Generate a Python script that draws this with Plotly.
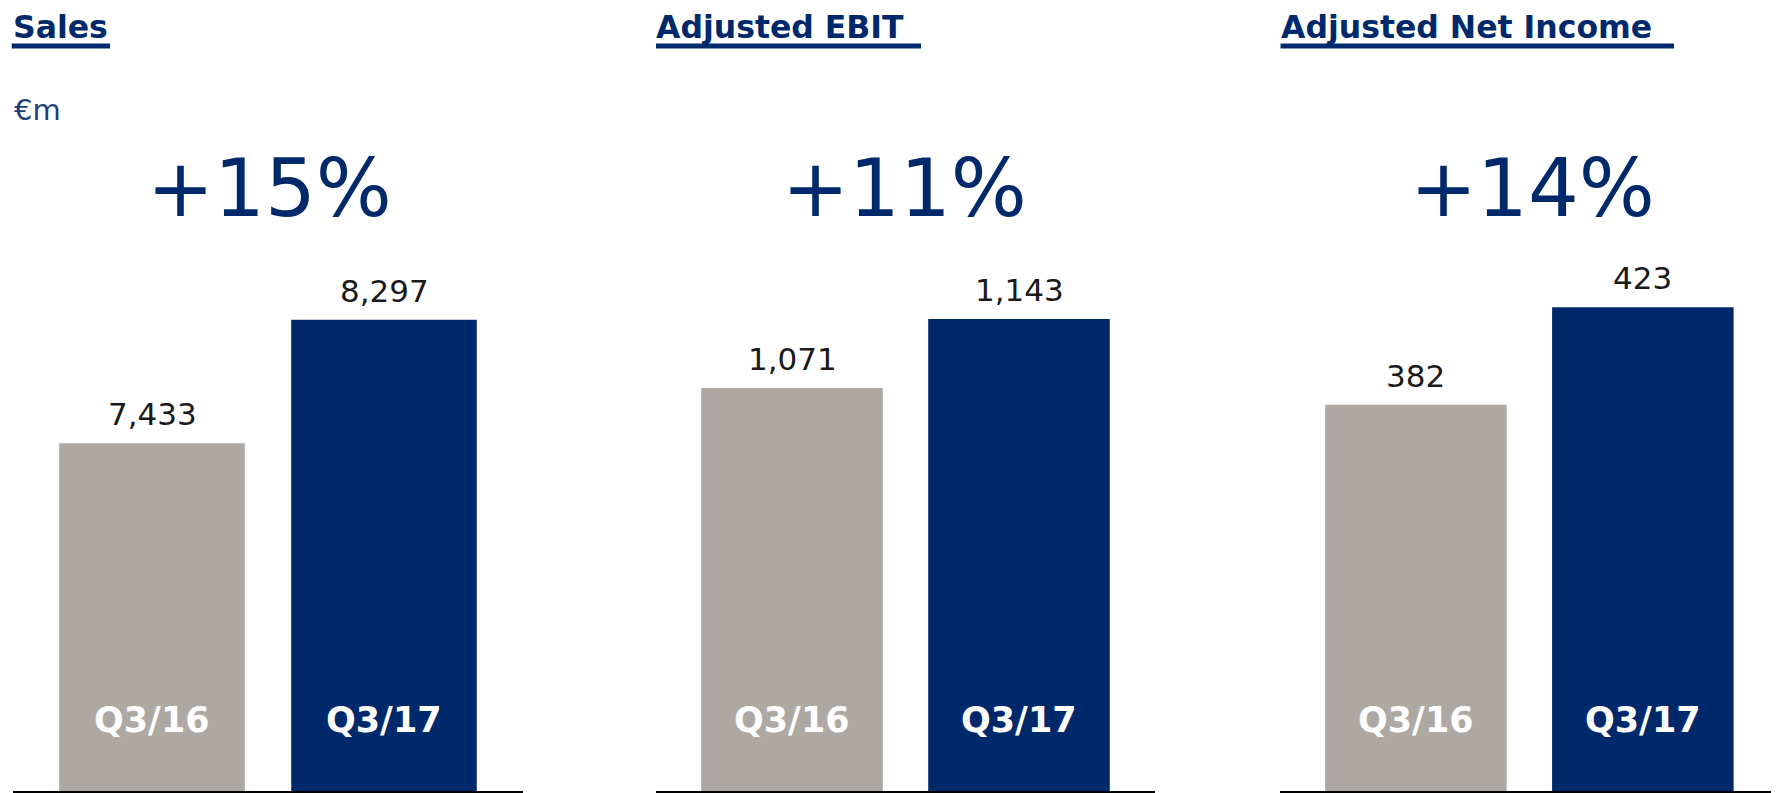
import plotly.graph_objects as go

# ---------------- data ----------------
periods = ["Q3/16", "Q3/17"]
sales = [7433, 8297]
adj_ebit = [1071, 1143]
adj_net_income = [382, 423]
panel_titles = ["Sales", "Adjusted EBIT", "Adjusted Net Income"]
growth_labels = ["+15%", "+11%", "+14%"]
unit_label = "€m"

# ---------------- layout / style ----------------
W, H = 1779, 793          # target page size
OFF = 8                   # default body margin of the html page
FW, FH = W - OFF, H - OFF # figure size so it fills the page
NAVY = "#00296B"
GREY = "#ADA8A2"
bar_colors = [GREY, NAVY]


def px_x(px):
    return (px - OFF) / FW


def px_y(py):
    return 1 - (py - OFF) / FH


series = [sales, adj_ebit, adj_net_income]
x_dom_px = [(12.8, 523.2), (655.8, 1155.2), (1279.8, 1779.0)]
y_ranges = [(5000, 10477), (650, 1468), (220, 548.5)]
title_x_px = [12.0, 655, 1279.5]
underline_px = [(11.7, 110), (656, 921), (1280.5, 1674)]
growth_x_px = [269, 905, 1532]
baseline_px = 791
y_dom = [px_y(baseline_px), 1.0]

fig = go.Figure()
annotations = []
shapes = []

for i, vals in enumerate(series):
    n = "" if i == 0 else str(i + 1)
    xa, ya = "x" + n, "y" + n
    floor = y_ranges[i][0]
    fig.add_trace(go.Bar(
        x=periods, y=[v - floor for v in vals], base=floor,
        xaxis=xa, yaxis=ya,
        marker=dict(color=bar_colors, line=dict(width=0)),
        width=0.8, hoverinfo="skip",
    ))

    fig.update_layout(**{
        "xaxis" + n: dict(
            domain=[max(0, px_x(x_dom_px[i][0])), min(1, px_x(x_dom_px[i][1]))],
            anchor=ya, type="category", range=[-0.6, 1.6],
            showticklabels=False, ticks="", showgrid=False, zeroline=False,
            showline=True, linecolor="#000000", linewidth=2,
        ),
        "yaxis" + n: dict(
            domain=y_dom, anchor=xa, range=list(y_ranges[i]),
            visible=False, showgrid=False, zeroline=False,
        ),
    })

    for p, v in zip(periods, vals):
        # value labels above the bars
        annotations.append(dict(
            x=p, y=v, xref=xa, yref=ya, text=f"{v:,}", showarrow=False,
            xanchor="center", yanchor="bottom", yshift=9,
            font=dict(family="DejaVu Sans", size=31, color="#1A1A1A"),
        ))
        # period labels inside the bars
        annotations.append(dict(
            x=p, y=floor, xref=xa, yref=ya, text=f"<b>{p}</b>",
            showarrow=False, xanchor="center", yanchor="bottom", yshift=49,
            font=dict(family="DejaVu Sans", size=35, color="#FFFFFF"),
        ))

    # panel titles with underline
    annotations.append(dict(
        x=px_x(title_x_px[i]), y=1.0, xref="paper", yref="paper",
        text=f"<b>{panel_titles[i]}</b>", showarrow=False,
        xanchor="left", yanchor="top", yshift=0, borderpad=0,
        font=dict(family="DejaVu Sans", size=31.5, color=NAVY),
    ))
    shapes.append(dict(
        type="line", xref="paper", yref="paper",
        x0=px_x(underline_px[i][0]), x1=px_x(underline_px[i][1]),
        y0=px_y(46), y1=px_y(46),
        line=dict(color=NAVY, width=5),
    ))
    # growth figures
    annotations.append(dict(
        x=px_x(growth_x_px[i]), y=px_y(140), xref="paper", yref="paper",
        text=growth_labels[i], showarrow=False,
        xanchor="center", yanchor="top",
        font=dict(family="DejaVu Sans", size=80, color=NAVY),
    ))

annotations.append(dict(
    x=px_x(12.0), y=px_y(91), xref="paper", yref="paper",
    text=unit_label, showarrow=False, xanchor="left", yanchor="top",
    font=dict(family="DejaVu Sans", size=29, color="#1F3E7A"),
))

fig.update_layout(
    width=FW, height=FH, margin=dict(l=0, r=0, t=0, b=0),
    paper_bgcolor="white", plot_bgcolor="white",
    showlegend=False, annotations=annotations, shapes=shapes,
)

fig.write_html("out.html")
